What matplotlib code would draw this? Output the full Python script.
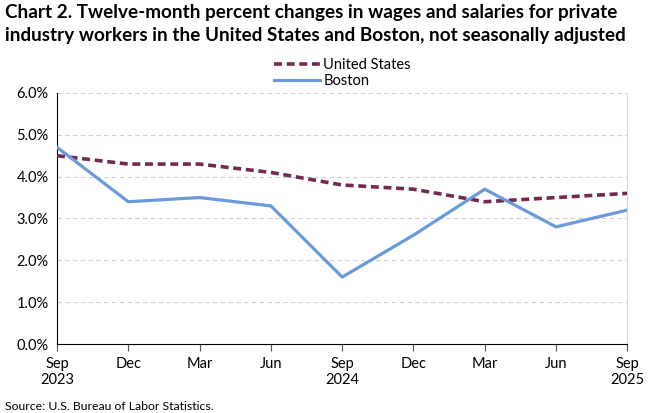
import matplotlib.pyplot as plt
from matplotlib.ticker import FuncFormatter

periods = ["Sep\n2023", "Dec", "Mar", "Jun", "Sep\n2024", "Dec", "Mar", "Jun", "Sep\n2025"]
united_states = [4.5, 4.3, 4.3, 4.1, 3.8, 3.7, 3.4, 3.5, 3.6]
boston = [4.7, 3.4, 3.5, 3.3, 1.6, 2.6, 3.7, 2.8, 3.2]

plt.rcParams['font.family'] = ['Lato', 'DejaVu Sans']

fig = plt.figure(figsize=(6.67, 4.13), dpi=100, facecolor='white')
ax = fig.add_axes([0.0855, 0.167, 0.855, 0.608])

x = list(range(len(periods)))
ax.plot(x, united_states, color='#722A4E', linewidth=2.6, linestyle=(0, (2.2, 1.3)),
        label='United States', zorder=3)
ax.plot(x, boston, color='#6A9AD9', linewidth=2.3, label='Boston', zorder=3)

ax.set_xlim(0, len(periods) - 1)
ax.set_ylim(0, 6)
ax.set_yticks([0, 1, 2, 3, 4, 5, 6])
ax.yaxis.set_major_formatter(FuncFormatter(lambda v, p: f'{v:.1f}%'))
ax.set_xticks(x)
ax.set_xticklabels(periods, fontsize=10.5)
ax.tick_params(axis='y', length=0, labelsize=10.5, pad=6)
ax.tick_params(axis='x', direction='out', length=5, color='#555555', pad=4)
ax.grid(axis='y', color='#D0D0D0', linestyle=(0, (4, 3)), linewidth=0.8)
ax.set_axisbelow(True)

ax.spines['left'].set_color('black')
ax.spines['bottom'].set_color('black')
ax.spines['top'].set_visible(False)
ax.spines['right'].set_color('#D9D9D9')

fig.text(0.008, 0.99, 'Chart 2. Twelve-month percent changes in wages and salaries for private\n'
         'industry workers in the United States and Boston, not seasonally adjusted',
         fontsize=13.6, fontweight='bold', va='top', ha='left', linespacing=1.45)

ax.legend(loc='lower center', bbox_to_anchor=(0.5, 0.995), frameon=False, ncol=1,
          fontsize=10.5, handlelength=3.2, handletextpad=0.2, labelspacing=0.15,
          borderaxespad=0)

fig.text(0.008, 0.003, 'Source: U.S. Bureau of Labor Statistics.', fontsize=8.8, ha='left', va='bottom')

fig.savefig('out.png', dpi=100, facecolor='white')
